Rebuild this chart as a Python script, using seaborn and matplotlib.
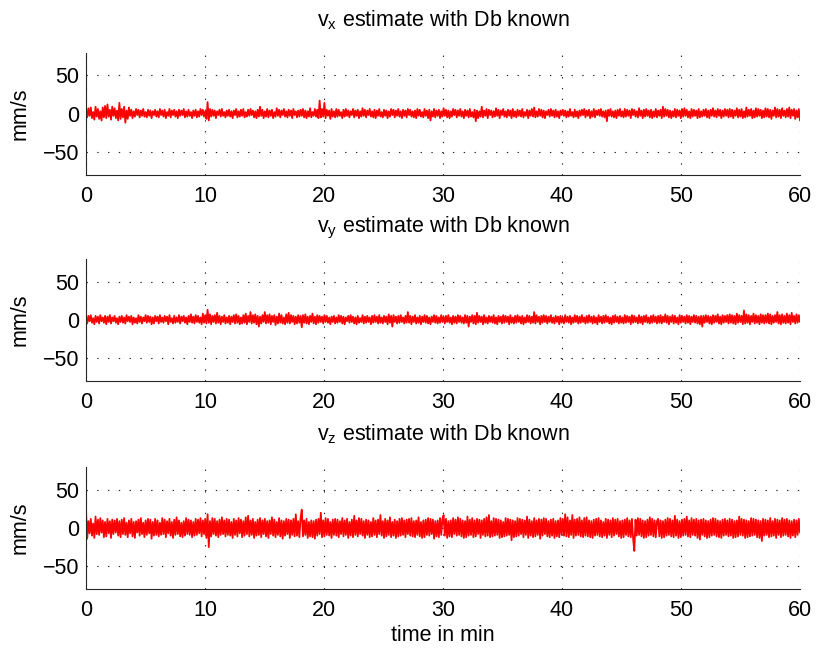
import numpy as np
import pandas as pd
import matplotlib
matplotlib.use("Agg")
import matplotlib.pyplot as plt
import seaborn as sns

# Velocity estimates (mm/s), sampled uniformly over one hour (10 samples per minute)
vx = [
    4, -5, 7, -3, 8, -6, 2, -8, 9, -4, 6, -7, 3, -9, 8, -5, 10, -6, 12, -4, 5, -8, 9, -3, 7, -6, 4, -9, 14, -7,
    6, -5, 9, -12, 4, -7, 8, -3, 5, -6, 3, -4, 6, -2, 5, -5, 4, -3, 6, -4, 2, -5, 5, -3, 4, -6, 3, -2, 5, -4,
    3, -5, 6, -2, 4, -4, 5, -6, 2, -3, 6, -5, 4, -2, 5, -4, 3, -6, 5, -3, 4, -2, 6, -5, 3, -4, 5, -3, 2, -6,
    4, -3, 5, -5, 3, -4, 6, -2, 5, -4, 3, -7, 15, -9, 6, -4, 5, -3, 4, -6, 3, -2, 5, -4, 6, -3, 2, -5, 4, -3,
    5, -4, 3, -6, 4, -2, 6, -5, 3, -4, 5, -3, 6, -5, 2, -4, 5, -3, 6, -2, 4, -5, 3, -6, 5, -4, 9, -3, 5, -6,
    3, -4, 6, -5, 4, -3, 5, -6, 2, -4, 7, -3, 5, -5, 4, -2, 6, -4, 3, -5, 5, -3, 4, -6, 6, -2, 3, -5, 4, -4,
    5, -3, 6, -5, 4, -6, 3, -4, 7, -5, 2, -3, 6, -4, 5, -6, 17, -5, 6, -4, 14, -6, 5, -3, 4, -7, 6, -4, 3, -5,
    6, -4, 5, -3, 2, -6, 5, -4, 6, -3, 4, -5, 3, -2, 6, -5, 4, -3, 5, -6, 3, -4, 7, -3, 5, -5, 4, -2, 6, -4,
    3, -5, 5, -6, 4, -3, 6, -4, 2, -5, 5, -3, 4, -6, 3, -4, 6, -2, 5, -5, 4, -3, 6, -4, 3, -6, 5, -3, 4, -5,
    6, -2, 5, -4, 3, -5, 4, -6, 6, -3, 5, -4, 2, -5, 6, -3, 4, -6, 5, -9, 3, -4, 6, -5, 4, -3, 5, -6, 3, -4,
    7, -3, 5, -5, 4, -6, 3, -4, 6, -2, 5, -5, 4, -3, 6, -4, 3, -6, 5, -3, 4, -5, 6, -4, 2, -5, 5, -10, 4, -6,
    3, -4, 9, -5, 4, -3, 6, -6, 5, -2, 4, -5, 3, -4, 7, -3, 5, -6, 4, -2, 6, -4, 3, -5, 5, -3, 4, -6, 6, -4,
    3, -5, 5, -3, 4, -4, 6, -5, 2, -3, 5, -6, 4, -3, 6, -4, 8, -5, 3, -4, 6, -3, 5, -5, 4, -6, 3, -2, 5, -4,
    6, -3, 4, -5, 5, -4, 3, -6, 4, -2, 5, -3, 4, -5, 3, -4, 6, -3, 2, -5, 5, -4, 3, -6, 4, -3, 5, -2, 6, -5,
    4, -3, 5, -6, 3, -4, 6, -5, 4, -2, 5, -3, 6, -4, 3, -5, 4, -10, 5, -3, 6, -4, 3, -5, 4, -6, 5, -3, 6, -4,
    3, -5, 6, -4, 5, -3, 4, -6, 6, -2, 5, -4, 3, -5, 7, -3, 4, -6, 5, -4, 6, -3, 4, -5, 5, -6, 3, -4, 6, -5,
    4, -3, 5, -6, 9, -4, 6, -3, 5, -5, 4, -6, 3, -4, 6, -5, 5, -3, 4, -6, 6, -4, 7, -3, 5, -5, 3, -6, 6, -4,
    5, -3, 4, -6, 6, -5, 3, -4, 5, -3, 6, -5, 4, -6, 5, -3, 7, -4, 4, -5, 6, -3, 5, -6, 4, -4, 6, -3, 5, -5,
    6, -4, 5, -6, 4, -3, 7, -5, 5, -4, 6, -6, 3, -5, 8, -4, 5, -3, 6, -6, 4, -5, 7, -4, 6, -3, 5, -6, 4, -5,
    7, -4, 6, -5, 5, -7, 4, -3, 8, -5, 6, -4, 5, -6, 7, -3, 4, -5, 6, -4, 8, -6, 5, -3, 6, -7, 4, -5, 6, -9,
]

vy = [
    3, -5, 5, -2, 6, -4, 2, -6, 5, -3, 4, -5, 6, -2, 3, -4, 5, -6, 4, -3, 6, -5, 3, -2, 5, -4, 2, -6, 4, -3,
    5, -4, 3, -5, 6, -2, 4, -3, 5, -6, 3, -4, 2, -5, 6, -3, 4, -5, 3, -2, 6, -4, 5, -3, 4, -6, 3, -5, 5, -2,
    4, -5, 6, -3, 3, -4, 5, -2, 4, -6, 6, -3, 2, -5, 5, -4, 3, -3, 6, -5, 4, -2, 5, -4, 3, -6, 5, -3, 7, -4,
    4, -5, 6, -3, 5, -4, 3, -6, 8, -4, 6, -5, 13, -4, 7, -6, 5, -3, 6, -5, 9, -4, 5, -6, 4, -3, 6, -5, 3, -4,
    5, -6, 4, -3, 6, -5, 7, -4, 5, -6, 3, -5, 6, -4, 8, -6, 5, -3, 10, -5, 6, -4, 7, -6, 5, -9, 4, -5, 6, -3,
    10, -5, 6, -4, 7, -6, 5, -3, 6, -7, 4, -5, 8, -4, 6, -5, 3, -6, 7, -4, 9, -5, 6, -3, 5, -6, 4, -5, 6, -4,
    5, -10, 6, -4, 7, -5, 4, -6, 5, -3, 8, -5, 4, -6, 6, -4, 5, -3, 4, -5, 6, -3, 5, -4, 3, -6, 4, -3, 5, -5,
    3, -4, 6, -3, 5, -5, 4, -6, 3, -2, 5, -4, 6, -3, 4, -5, 3, -6, 5, -4, 2, -3, 6, -5, 4, -4, 5, -3, 3, -6,
    5, -4, 6, -3, 4, -5, 6, -4, 3, -5, 5, -3, 4, -6, 7, -4, 5, -9, 6, -3, 4, -5, 5, -4, 6, -3, 3, -5, 5, -4,
    10, -4, 5, -6, 4, -3, 6, -5, 3, -4, 5, -6, 4, -3, 6, -4, 5, -5, 3, -6, 4, -3, 6, -4, 5, -5, 3, -4, 6, -3,
    4, -5, 5, -3, 6, -4, 3, -6, 5, -4, 4, -5, 6, -3, 5, -4, 3, -5, 6, -4, 5, -9, 4, -3, 6, -5, 5, -6, 9, -4,
    5, -3, 4, -6, 6, -4, 3, -5, 5, -3, 4, -4, 6, -5, 3, -6, 5, -3, 4, -5, 6, -4, 5, -3, 4, -6, 6, -4, 3, -5,
    5, -4, 6, -3, 4, -5, 5, -6, 3, -4, 6, -3, 5, -5, 4, -4, 10, -5, 6, -3, 4, -6, 5, -4, 6, -3, 5, -5, 4, -3,
    6, -4, 3, -5, 5, -3, 4, -6, 5, -4, 3, -5, 6, -3, 4, -4, 5, -6, 3, -4, 6, -3, 5, -5, 4, -4, 6, -3, 3, -5,
    5, -4, 6, -3, 4, -5, 5, -4, 3, -6, 6, -3, 4, -5, 5, -4, 6, -3, 4, -5, 3, -6, 5, -4, 6, -3, 4, -5, 5, -4,
    3, -5, 6, -4, 5, -3, 4, -6, 6, -4, 5, -3, 3, -5, 6, -4, 4, -6, 5, -3, 6, -4, 3, -5, 5, -4, 6, -3, 4, -5,
    5, -4, 6, -5, 4, -3, 7, -4, 5, -6, 4, -3, 6, -5, 5, -4, 3, -6, 6, -4, 5, -3, 4, -5, 6, -4, 5, -6, 4, -3,
    6, -4, 5, -5, 4, -6, 5, -9, 5, -4, 6, -3, 5, -5, 4, -6, 6, -4, 5, -3, 7, -5, 4, -6, 6, -4, 5, -3, 6, -5,
    7, -4, 6, -5, 5, -6, 8, -4, 6, -3, 5, -6, 12, -5, 7, -4, 6, -6, 5, -3, 8, -5, 6, -4, 5, -6, 7, -4, 6, -5,
    6, -4, 8, -5, 7, -6, 5, -4, 6, -3, 10, -5, 6, -6, 7, -4, 5, -5, 8, -4, 6, -6, 9, -3, 5, -5, 7, -4, 6, -3,
]

vz = [
    22, -14, 9, -7, 12, -10, 6, -13, 15, -8, 11, -9, 13, -6, 10, -12, 8, -11, 12, -7, 9, -13, 11, -8, 10, -6, 12, -10, 9, -12,
    11, -8, 13, -9, 7, -12, 10, -7, 12, -11, 8, -13, 9, -6, 11, -10, 13, -8, 7, -12, 10, -9, 12, -7, 11, -14, 8, -10, 12, -9,
    10, -11, 7, -9, 13, -8, 11, -12, 9, -7, 12, -10, 8, -13, 11, -9, 14, -8, 10, -11, 7, -12, 9, -10, 13, -8, 11, -9, 10, -12,
    8, -10, 12, -9, 11, -7, 13, -11, 10, -8, 12, -13, 18, -25, 9, -11, 13, -8, 12, -10, 9, -12, 11, -9, 14, -8, 10, -11, 12, -9,
    11, -10, 8, -13, 12, -9, 10, -11, 13, -7, 11, -12, 9, -10, 14, -8, 16, -11, 10, -9, 12, -13, 8, -10, 11, -9, 13, -12, 10, -8,
    12, -11, 9, -13, 10, -8, 14, -10, 11, -12, 8, -9, 13, -11, 10, -14, 9, -10, 12, -8, 11, -13, 10, -9, 12, -11, 18, -10, 9, -12,
    13, 24, -11, 10, -9, 12, -13, 8, -11, 10, -12, 9, -14, 11, -10, 12, -8, 20, -12, 10, -11, 13, -9, 12, -10, 8, -13, 11, -9, 12,
    -10, 11, -12, 9, -8, 13, -11, 10, -9, 12, -13, 8, -10, 11, -12, 16, -9, 10, -11, 13, -8, 12, -10, 9, -13, 11, -9, 10, -12, 8,
    -11, 13, -9, 10, -12, 11, -8, 17, -10, 9, -13, 12, -11, 10, -9, 14, -12, 8, -10, 11, -13, 9, -11, 12, -10, 13, -9, 10, -12, 11,
    -8, 12, -10, 13, -11, 9, -12, 10, -9, 14, -11, 8, -13, 10, -12, 11, -9, 13, -10, 12, -8, 11, -14, 9, -11, 10, -12, 13, -9, 11,
    17, -10, 12, -13, 9, -11, 10, -12, 13, -8, 11, -10, 14, -9, 12, -11, 10, -13, 9, -12, 15, -10, 11, -9, 13, -12, 10, -11, 12, -8,
    11, -13, 10, -9, 12, -11, 14, -10, 17, -12, 9, -11, 13, -10, 12, -9, 11, -13, 10, -12, 8, -11, 13, -10, 12, -9, 11, -16, 10, -12,
    9, -11, 13, -10, 12, -8, 11, -12, 10, -9, 15, -13, 11, -10, 9, -12, 13, -11, 10, -9, 12, -14, 11, -10, 13, -8, 12, -11, 9, -12,
    11, -10, 12, -13, 9, -11, 10, -12, 13, -9, 12, -10, 18, -11, 14, -12, 10, -9, 17, -13, 11, -10, 12, -9, 14, -11, 10, -12, 13, -10,
    14, -11, 10, -12, 9, -13, 11, -10, 12, -9, 13, -11, 10, -12, 8, -10, 12, -13, 11, -9, 10, -12, 13, -10, 11, -8, 12, -11, 9, -13,
    10, -12, 11, -9, 13, -11, 10, -12, 12, -14, -30, 11, -10, 13, -9, 12, -11, 10, -13, 9, -12, 11, -10, 14, -9, 12, -11, 10, -12, 9,
    12, -11, 10, -13, 9, -12, 11, -10, 13, -9, 12, -11, 10, -12, 16, -10, 11, -13, 9, -12, 11, -10, 12, -9, 15, -11, 10, -12, 13, -9,
    11, -10, 12, -13, 10, -15, 11, -9, 12, -11, 10, -13, 9, -12, 11, -10, 13, -9, 12, -11, 10, -12, 9, -13, 11, -10, 12, -9, 10, -11,
    12, -10, 11, -13, 9, -12, 10, -11, 15, -9, 12, -10, 11, -13, 10, -12, 9, -11, 13, -10, 12, -9, 11, -12, 10, -13, 9, -17, 12, -10,
    11, -9, 10, -12, 13, -11, 9, -10, 12, -13, 11, -9, 10, -12, 13, -10, 11, -9, 12, -11, 10, -13, 9, -10, 11, -12, 10, -9, 12, -6,
]

t_end = 60.0
titles = [
    r"$\mathregular{v_x}$ estimate with Db known",
    r"$\mathregular{v_y}$ estimate with Db known",
    r"$\mathregular{v_z}$ estimate with Db known",
]
x_ticks = [0, 10, 20, 30, 40, 50, 60]
y_ticks = [-50, 0, 50]
y_tick_labels = ["\u221250", "0", "50"]
y_lim = (-80, 80)

sns.set_theme(style="white")
plt.rcParams["font.family"] = ["Liberation Sans", "DejaVu Sans"]
plt.rcParams["mathtext.fontset"] = "custom"
plt.rcParams["mathtext.rm"] = "Liberation Sans"
plt.rcParams["mathtext.it"] = "Liberation Sans"

fs = 15.5
fig = plt.figure(figsize=(8.16, 6.48), dpi=100)
bottoms = [0.7306, 0.4125, 0.0910]
series = [vx, vy, vz]

for i, (vals, title, b) in enumerate(zip(series, titles, bottoms)):
    ax = fig.add_axes([0.1054, b, 0.875, 0.1883])
    df = pd.DataFrame({"t": np.linspace(0, t_end, len(vals)), "v": vals})
    sns.lineplot(data=df, x="t", y="v", ax=ax, color="#ff0000",
                 linewidth=1.3, estimator=None)
    ax.set_xlim(0, t_end)
    ax.set_ylim(*y_lim)
    ax.set_xticks(x_ticks)
    ax.set_yticks(y_ticks)
    ax.set_yticklabels(y_tick_labels)
    ax.grid(True, color="#222222", linewidth=0.8, linestyle=(0, (1.2, 8.5)))
    ax.set_axisbelow(True)
    for s in ["top", "right"]:
        ax.spines[s].set_visible(False)
    for s in ["left", "bottom"]:
        ax.spines[s].set_color("#262626")
        ax.spines[s].set_linewidth(0.8)
    ax.tick_params(axis="both", direction="in", length=4, width=0.8,
                   color="#262626", labelsize=fs, labelcolor="black")
    ax.tick_params(axis="x", pad=8)
    ax.tick_params(axis="y", pad=5)
    ax.set_title(title, fontsize=fs, pad=19, color="black")
    ax.set_ylabel("mm/s", fontsize=fs, color="black")
    ax.yaxis.set_label_coords(-0.078, 0.5)
    if i == 2:
        ax.set_xlabel("time in min", fontsize=fs, color="black", labelpad=3)
    else:
        ax.set_xlabel("")

fig.savefig("out.png", dpi=100, facecolor="white")
